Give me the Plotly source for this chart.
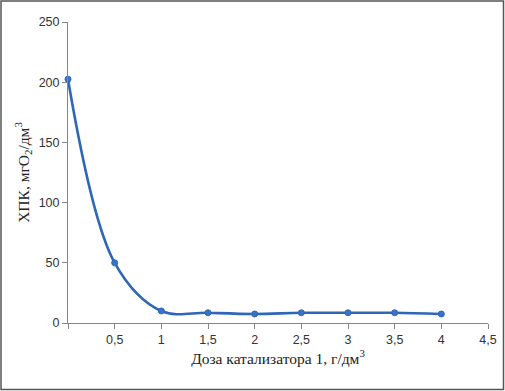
import plotly.graph_objects as go

dose = [0, 0.5, 1, 1.5, 2, 2.5, 3, 3.5, 4]
cod = [202.5, 50, 10, 8.5, 7.5, 8.5, 8.5, 8.5, 7.5]
x_tickvals = [0, 0.5, 1, 1.5, 2, 2.5, 3, 3.5, 4, 4.5]
x_ticktext = [" ", "0,5", "1", "1,5", "2", "2,5", "3", "3,5", "4", "4,5"]
y_tickvals = [0, 50, 100, 150, 200, 250]

fig = go.Figure()
fig.add_trace(go.Scatter(
    x=dose, y=cod, mode="lines+markers",
    line=dict(color="#2e66b8", width=2.6, shape="spline", smoothing=1.0),
    marker=dict(color="#3a72c4", size=6, line=dict(color="#2e66b8", width=1)),
    showlegend=False, cliponaxis=False,
))

L, R, T, B = 68, 17, 22, 68
pw, ph = 505 - L - R, 391 - T - B

fig.update_layout(
    width=505, height=391,
    margin=dict(l=L, r=R, t=T, b=B, autoexpand=False),
    paper_bgcolor="white", plot_bgcolor="white",
    xaxis=dict(
        range=[0, 4.5], tickvals=x_tickvals, ticktext=x_ticktext, automargin=False,
        showgrid=False, zeroline=False, showline=True, linecolor="#868686", linewidth=1,
        ticks="outside", ticklen=5, tickcolor="#868686",
        tickfont=dict(family="Liberation Sans", size=12.5, color="#333333"),
        title=dict(text="Доза катализатора 1, г/дм<sup>3</sup>",
                   font=dict(family="Liberation Serif", size=15.5, color="#222222"), standoff=6),
    ),
    yaxis=dict(
        range=[0, 250], tickvals=y_tickvals, automargin=False,
        showgrid=False, zeroline=False, showline=True, linecolor="#868686", linewidth=1,
        ticks="outside", ticklen=5, tickcolor="#868686",
        tickfont=dict(family="Liberation Sans", size=12.5, color="#333333"),
        title=dict(text="ХПК, мгО<sub>2</sub>/дм<sup>3</sup>",
                   font=dict(family="Liberation Serif", size=15.5, color="#222222"), standoff=5),
    ),
    shapes=[dict(
        type="rect", xref="paper", yref="paper",
        x0=-(L - 1) / pw, x1=1 + (R - 1.5) / pw,
        y0=-(B - 1.5) / ph, y1=1 + (T - 1) / ph,
        line=dict(color="#555555", width=1.5), layer="above",
    )],
)

fig.write_html("out.html", config={"displayModeBar": False},
               post_script="document.body.style.margin='0';document.body.style.overflow='hidden';")
